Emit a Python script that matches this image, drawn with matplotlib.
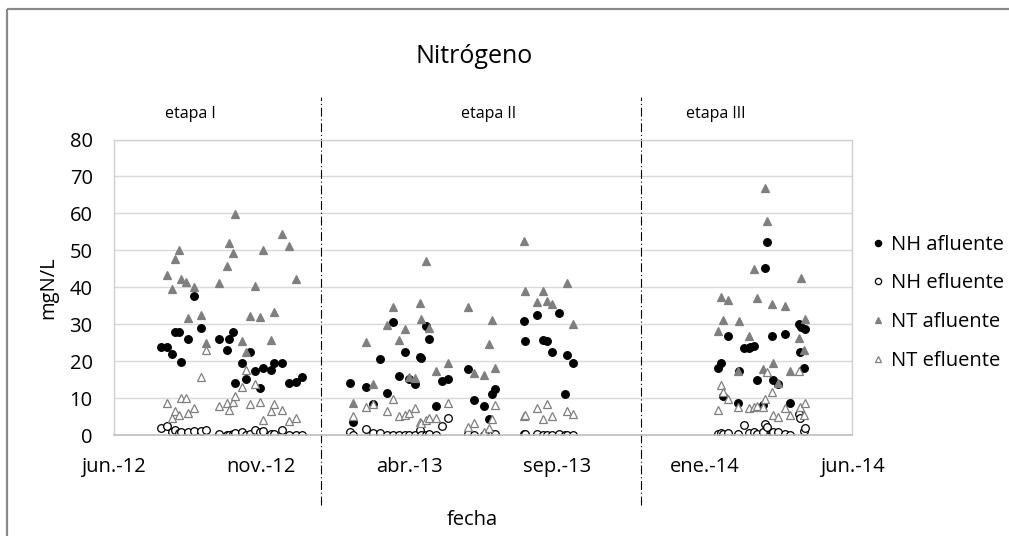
import numpy as np
import pandas as pd
import matplotlib
matplotlib.use('Agg')
import matplotlib.pyplot as plt
from matplotlib.lines import Line2D

plt.rcParams['font.family'] = ['Open Sans', 'DejaVu Sans']

nan = np.nan

# fechas de muestreo y concentraciones (mgN/L)
fechas = [
    # etapa I
    '2012-07-26', '2012-08-01', '2012-08-06', '2012-08-09', '2012-08-13', '2012-08-16',
    '2012-08-21', '2012-08-23', '2012-08-29', '2012-09-05', '2012-09-10', '2012-09-23',
    '2012-10-01', '2012-10-03', '2012-10-07', '2012-10-09', '2012-10-16', '2012-10-21',
    '2012-10-25', '2012-10-30', '2012-11-04', '2012-11-07', '2012-11-15', '2012-11-18',
    '2012-11-26', '2012-12-03', '2012-12-10', '2012-12-16',
    # etapa II
    '2013-02-03', '2013-02-06', '2013-02-19', '2013-02-26', '2013-03-06', '2013-03-13',
    '2013-03-19', '2013-03-25', '2013-03-31', '2013-04-04', '2013-04-10', '2013-04-15',
    '2013-04-16', '2013-04-21', '2013-04-24', '2013-05-01', '2013-05-07', '2013-05-14',
    '2013-06-03', '2013-06-09', '2013-06-19', '2013-06-24', '2013-06-27', '2013-06-30',
    '2013-07-30', '2013-07-31', '2013-08-12', '2013-08-18', '2013-08-22', '2013-08-27',
    '2013-09-03', '2013-09-09', '2013-09-11', '2013-09-17',
    # etapa III
    '2014-02-12', '2014-02-15', '2014-02-17', '2014-02-22', '2014-03-04', '2014-03-05',
    '2014-03-10', '2014-03-15', '2014-03-16', '2014-03-20', '2014-03-23', '2014-03-29',
    '2014-03-31', '2014-04-02', '2014-04-07', '2014-04-09', '2014-04-14', '2014-04-21',
    '2014-04-26', '2014-05-05', '2014-05-06', '2014-05-07', '2014-05-10', '2014-05-11',
]

nh_afluente = [
    23.9, 23.9, 21.9, 28.0, 28.0, 19.9, nan, 25.9, 37.7, 29.1, nan, 25.9,
    23.1, 25.9, 27.8, 14.2, 19.6, 15.1, 22.6, 17.4, 12.8, 18.1, 17.6, 19.4,
    19.4, 14.2, 14.4, 15.6,
    14.0, 3.6, 13.1, 8.3, 20.6, 11.5, 30.6, 16.1, 22.6, 15.3, 13.7, 21.1,
    20.9, 29.6, 26.1, 7.9, 14.7, 15.1, 18.0, 9.5, 7.9, 4.3, 11.1, 12.5,
    30.9, 25.5, 32.6, 25.7, 25.5, 22.6, 32.9, 11.1, 21.6, 19.6,
    18.1, 19.6, 10.6, 26.9, 8.6, 17.4, 23.6, 23.6, 23.9, 24.2, 14.8, 8.0,
    45.1, 52.3, 26.9, 14.8, 13.8, 27.3, 8.6, 30.1, 22.6, 29.2, 18.2, 28.7,
]

nh_efluente = [
    1.8, 2.4, 0.9, 1.35, 0.45, 0.9, nan, 0.9, 1.1, 1.1, 1.35, 0.2,
    0.0, 0.0, 0.2, 0.45, 0.7, 0.0, 0.3, 1.35, 0.7, 1.1, 0.2, 0.2,
    1.35, 0.0, 0.0, 0.0,
    0.7, 0.0, 1.6, 0.45, 0.45, 0.0, 0.1, 0.1, 0.1, 0.0, 0.1, 1.4,
    0.0, 0.0, 0.4, 0.0, 2.4, 4.7, 0.2, 0.0, 0.0, 0.0, 0.2, 0.2,
    0.2, 0.2, 0.2, 0.0, 0.0, 0.0, 0.2, 0.0, 0.0, 0.0,
    0.3, 0.45, 0.3, 0.45, 0.3, nan, 2.8, 0.45, nan, 0.7, 0.3, 0.7,
    3.0, 2.3, 0.45, 0.7, 0.7, 0.3, 0.0, 5.7, 4.7, nan, 1.2, 1.8,
]

nt_afluente = [
    nan, 43.2, 39.6, 47.7, 50.1, 42.2, 41.3, 31.7, 40.0, 32.5, 24.8, 41.1,
    45.8, 52.1, 49.2, 59.8, 25.4, 22.6, 32.2, 40.3, 31.9, 50.1, 25.7, 33.2,
    54.4, 51.1, 42.3, nan,
    nan, 8.6, 25.1, 13.9, nan, 29.9, 34.7, 25.7, 28.6, 15.8, 15.5, 35.8,
    31.5, 47.1, 28.9, 17.3, nan, 19.6, 34.7, 16.9, 16.2, 24.6, 31.1, 18.2,
    52.6, 38.9, 36.0, 38.9, 36.4, 35.5, nan, nan, 41.1, 30.0,
    28.2, 37.5, 31.1, 36.6, 17.3, 30.9, nan, 26.9, nan, 44.9, 37.0, 17.8,
    66.8, 57.9, 35.6, 19.4, 14.0, 34.9, 17.3, 26.4, nan, 42.4, 23.0, 31.3,
]

nt_efluente = [
    nan, 8.6, 4.7, 6.6, 5.4, 9.9, 9.9, 5.9, 7.2, 15.6, 23.0, 7.9,
    8.8, 6.9, 9.0, 10.6, 12.9, 17.6, 8.4, 13.7, 9.0, 4.2, 6.5, 8.4,
    6.9, 3.8, 4.7, nan,
    nan, 5.2, 7.7, 8.4, nan, 6.6, 9.8, 5.2, 5.5, 6.0, 7.2, 3.6,
    3.3, 4.1, 4.7, 4.5, nan, 8.6, 2.3, 3.2, 0.9, 1.8, 4.3, 8.1,
    5.2, 5.5, 7.2, 4.3, 8.3, 5.1, nan, nan, 6.6, 5.6,
    6.8, 13.5, 11.7, 9.7, 7.7, nan, nan, 7.2, nan, 7.5, 7.9, 7.5,
    9.7, 17.1, 11.7, 5.4, 4.8, 7.2, 5.4, 17.3, 7.7, nan, 5.4, 8.8,
]

# limites de las etapas
cortes_etapa = ['2013-01-05', '2013-11-25']
etapas = ['etapa I', 'etapa II', 'etapa III']
centros_etapa = ['2012-08-25', '2013-06-24', '2014-02-09']

# eje x
inicio_eje = '2012-06-08'
fin_eje = '2014-06-28'
ticks_x = ['2012-06-08', '2012-11-05', '2013-04-04', '2013-09-01', '2014-01-29', '2014-06-28']
etiquetas_x = ['jun.-12', 'nov.-12', 'abr.-13', 'sep.-13', 'ene.-14', 'jun.-14']

df = pd.DataFrame({
    'fecha': pd.to_datetime(fechas),
    'NH afluente': nh_afluente,
    'NH efluente': nh_efluente,
    'NT afluente': nt_afluente,
    'NT efluente': nt_efluente,
})

gris = '#7f7f7f'
estilos = {
    'NH afluente': dict(marker='o', mfc='black', mec='black'),
    'NH efluente': dict(marker='o', mfc='white', mec='black'),
    'NT afluente': dict(marker='^', mfc=gris, mec=gris),
    'NT efluente': dict(marker='^', mfc='white', mec=gris),
}

fig = plt.figure(figsize=(10.09, 5.36), dpi=100)
ax = fig.add_axes([0.1125, 0.1884, 0.7322, 0.5513])

for serie, st in estilos.items():
    ax.plot(df['fecha'], df[serie], linestyle='none', markersize=5.5, mew=0.9, **st)

ax.set_xlim(pd.Timestamp(inicio_eje), pd.Timestamp(fin_eje))
ax.set_ylim(0, 80)
ax.set_yticks(range(0, 81, 10))
ax.set_xticks(pd.to_datetime(ticks_x))
ax.set_xticklabels(etiquetas_x)
ax.tick_params(axis='both', length=0, labelsize=14.5, colors='#000000')
ax.tick_params(axis='x', pad=16)
ax.tick_params(axis='y', pad=15)
ax.yaxis.grid(True, color='#d9d9d9', linewidth=1)
ax.set_axisbelow(True)
for lado in ['left', 'top', 'right']:
    ax.spines[lado].set_color('#d0d0d0')
    ax.spines[lado].set_linewidth(1)
ax.spines['bottom'].set_color('#bfbfbf')
ax.spines['bottom'].set_linewidth(1.2)

# lineas de separacion de etapas
for c in cortes_etapa:
    ax.axvline(pd.Timestamp(c), ymin=-0.237, ymax=1.144, clip_on=False,
               color='black', linewidth=0.8, dashes=(8, 2.5, 1, 2.5))

for nombre, centro in zip(etapas, centros_etapa):
    ax.text(pd.Timestamp(centro), 1.085, nombre, transform=ax.get_xaxis_transform(),
            ha='center', va='center', fontsize=11.5)

fig.text(0.4695, 0.895, 'Nitrógeno', ha='center', va='center', fontsize=18)
fig.text(0.048, 0.463, 'mgN/L', rotation=90, ha='center', va='center', fontsize=14.5)
fig.text(0.4685, 0.03, 'fecha', ha='center', va='center', fontsize=14.5)

handles = [Line2D([], [], linestyle='none', markersize=4.5, mew=0.9, **st) for st in estilos.values()]
fig.legend(handles, list(estilos.keys()), loc='center left', bbox_to_anchor=(0.856, 0.435),
           frameon=False, fontsize=14.5, handlelength=0.6, handletextpad=0.35,
           labelspacing=0.93, borderaxespad=0)

# marco del grafico (solo se ven los bordes superior e izquierdo)
fig.add_artist(Line2D([0.0065, 0.0065], [0, 0.983], color='#898989', linewidth=1.6,
                      solid_capstyle='butt'))
fig.add_artist(Line2D([0.0065, 1.0], [0.983, 0.983], color='#898989', linewidth=1.6,
                      solid_capstyle='butt'))

fig.savefig('out.png', dpi=100)
